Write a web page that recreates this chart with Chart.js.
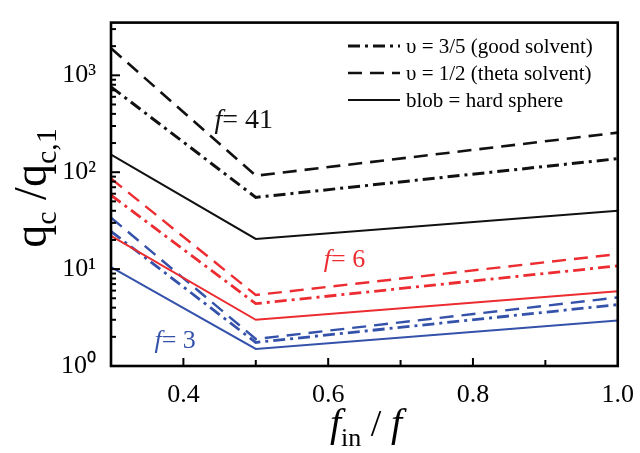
<!DOCTYPE html>
<html>
<head>
<meta charset="utf-8">
<script src="https://cdn.jsdelivr.net/npm/chart.js@4.4.0/dist/chart.umd.min.js"></script>
<style>
html,body{margin:0;padding:0;background:#fff;}
#wrap{width:640px;height:453px;}
</style>
</head>
<body>
<div id="wrap"><canvas id="c" width="640" height="453"></canvas></div>
<script>
// x positions (f_in / f)
const xValues = [0.3, 0.5, 1.0];
// f = 41
const f41Good  = [760, 55, 138];
const f41Theta = [1900, 92, 256];
const f41Blob  = [152, 20.5, 40];
// f = 6
const f6Good  = [58, 4.4, 10.8];
const f6Theta = [86, 5.4, 14.3];
const f6Blob  = [22, 3.0, 5.9];
// f = 3
const f3Good  = [24.5, 1.75, 4.3];
const f3Theta = [34, 1.9, 5.1];
const f3Blob  = [10.5, 1.5, 2.95];

const xTickLabels = ['0.4', '0.6', '0.8', '1.0'];
const yTickLabels = ['10\u2070', '10\u00b9', '10\u00b2', '10\u00b3'];
const legendLabels = ['\u03c5 = 3/5 (good solvent)', '\u03c5 = 1/2 (theta solvent)', 'blob = hard sphere'];
const annotationTexts = ['41', '6', '3'];
const annotationX = [0.443, 0.594, 0.36];
const annotationY = [287, 10.5, 1.52];

const BLACK = '#111111', RED = 'rgb(236,44,48)', BLUE = 'rgb(52,82,170)';
const DASHDOT = [12, 5, 3, 5], DASHED = [14, 8];
const SERIF = '"Liberation Serif", "Times New Roman", serif';

function pts(arr){ return arr.map((v,i)=>({x:xValues[i], y:v})); }
function ds(label, arr, color, dash, width){
  return {label, data: pts(arr), borderColor: color, backgroundColor: color,
          borderDash: dash, borderWidth: width, pointRadius: 0, tension: 0, fill: false};
}

const datasets = [
  ds('f=41 good', f41Good, BLACK, DASHDOT, 3),
  ds('f=41 theta', f41Theta, BLACK, DASHED, 2.6),
  ds('f=41 blob', f41Blob, BLACK, [], 2),
  ds('f=6 good', f6Good, RED, DASHDOT, 2.8),
  ds('f=6 theta', f6Theta, RED, DASHED, 2.4),
  ds('f=6 blob', f6Blob, RED, [], 2),
  ds('f=3 good', f3Good, BLUE, DASHDOT, 2.8),
  ds('f=3 theta', f3Theta, BLUE, DASHED, 2.4),
  ds('f=3 blob', f3Blob, BLUE, [], 2)
];

function drawRich(ctx, parts, x, y, align){
  let w = 0;
  parts.forEach(p => { ctx.font = p.font; w += ctx.measureText(p.t).width; });
  let cx = align === 'center' ? x - w/2 : x;
  parts.forEach(p => {
    ctx.font = p.font;
    ctx.fillText(p.t, cx, y + (p.dy || 0));
    cx += ctx.measureText(p.t).width;
  });
}

const decor = {
  id: 'decor',
  afterDatasetsDraw(chart){
    const {ctx, chartArea: a, scales: {x, y}} = chart;
    ctx.save();
    ctx.strokeStyle = '#000';
    ctx.lineWidth = 2;
    ctx.setLineDash([]);
    // y inside ticks (major & minor)
    for (let d = 0; d <= 3; d++){
      for (let m = 1; m <= 9; m++){
        const v = m * Math.pow(10, d);
        if (v > y.max) break;
        const py = y.getPixelForValue(v);
        const len = m === 1 ? 9 : 5;
        ctx.beginPath(); ctx.moveTo(a.left, py); ctx.lineTo(a.left + len, py); ctx.stroke();
      }
    }
    // x inside ticks
    for (let k = 4; k <= 9; k++){
      const px = x.getPixelForValue(k/10);
      const len = k % 2 === 0 ? 8 : 6;
      ctx.beginPath(); ctx.moveTo(px, a.bottom); ctx.lineTo(px, a.bottom - len); ctx.stroke();
    }
    // frame
    ctx.lineWidth = 2.6;
    ctx.strokeRect(a.left, a.top, a.right - a.left, a.bottom - a.top);

    // legend
    const legDash = [DASHDOT, DASHED, []];
    const legW = [3, 2.6, 2];
    const rowY = [46, 73, 100];
    ctx.fillStyle = '#000';
    ctx.textBaseline = 'middle';
    for (let i = 0; i < 3; i++){
      ctx.strokeStyle = BLACK;
      ctx.lineWidth = legW[i];
      ctx.setLineDash(legDash[i]);
      ctx.beginPath(); ctx.moveTo(348, rowY[i]); ctx.lineTo(400, rowY[i]); ctx.stroke();
      ctx.setLineDash([]);
      ctx.font = '21px ' + SERIF;
      ctx.textAlign = 'left';
      ctx.fillText(legendLabels[i], 406, rowY[i] + 1);
    }

    // annotations
    ctx.textBaseline = 'alphabetic';
    ctx.textAlign = 'left';
    const annColors = [BLACK, RED, BLUE];
    const annSize = [28, 26, 26];
    for (let i = 0; i < 3; i++){
      ctx.fillStyle = annColors[i];
      const px = x.getPixelForValue(annotationX[i]);
      const py = y.getPixelForValue(annotationY[i]);
      drawRich(ctx, [
        {t: 'f', font: 'italic ' + annSize[i] + 'px ' + SERIF},
        {t: '= ' + annotationTexts[i], font: annSize[i] + 'px ' + SERIF}
      ], px, py, 'left');
    }

    // x title
    ctx.fillStyle = '#000';
    drawRich(ctx, [
      {t: 'f', font: 'italic 40px ' + SERIF},
      {t: 'in', font: '26px ' + SERIF, dy: 10},
      {t: ' / ', font: '38px ' + SERIF},
      {t: 'f', font: 'italic 40px ' + SERIF}
    ], 366, 436, 'center');

    // y title (rotated)
    ctx.save();
    ctx.translate(46, 188);
    ctx.rotate(-Math.PI/2);
    drawRich(ctx, [
      {t: 'q', font: '46px ' + SERIF},
      {t: 'c', font: '30px ' + SERIF, dy: 10},
      {t: ' /q', font: '46px ' + SERIF},
      {t: 'c,1', font: '30px ' + SERIF, dy: 10}
    ], 0, 0, 'center');
    ctx.restore();
    ctx.restore();
  }
};

new Chart(document.getElementById('c'), {
  type: 'line',
  data: { datasets },
  plugins: [decor],
  options: {
    responsive: false,
    animation: false,
    events: [],
    layout: { padding: { top: 12, right: 19, left: 0, bottom: 0 } },
    plugins: { legend: { display: false }, tooltip: { enabled: false } },
    scales: {
      x: {
        type: 'linear', min: 0.3, max: 1.0,
        grid: { display: false }, border: { display: false },
        afterBuildTicks(s){ s.ticks = [0.3,0.4,0.5,0.6,0.7,0.8,0.9,1.0].map(v=>({value:v})); },
        afterFit(s){ s.height = 87; },
        ticks: {
          padding: 6, color: '#000', maxRotation: 0, autoSkip: false,
          font: { family: SERIF, size: 26 },
          callback(v){ const k = Math.round(v*10); return (k % 2 === 0 && k >= 4) ? xTickLabels[(k-4)/2] : ''; }
        }
      },
      y: {
        type: 'logarithmic', min: 1, max: 3500,
        grid: { display: false }, border: { display: false },
        afterBuildTicks(s){
          const t = [];
          for (let d = 0; d <= 3; d++) t.push({value: Math.pow(10, d)});
          s.ticks = t;
        },
        afterFit(s){ s.width = 111; },
        ticks: {
          padding: 7, color: '#000', autoSkip: false,
          font: { family: SERIF, size: 26 },
          callback(v){ const e = Math.round(Math.log10(v)); return yTickLabels[e]; }
        }
      }
    }
  }
});
</script>
</body>
</html>
